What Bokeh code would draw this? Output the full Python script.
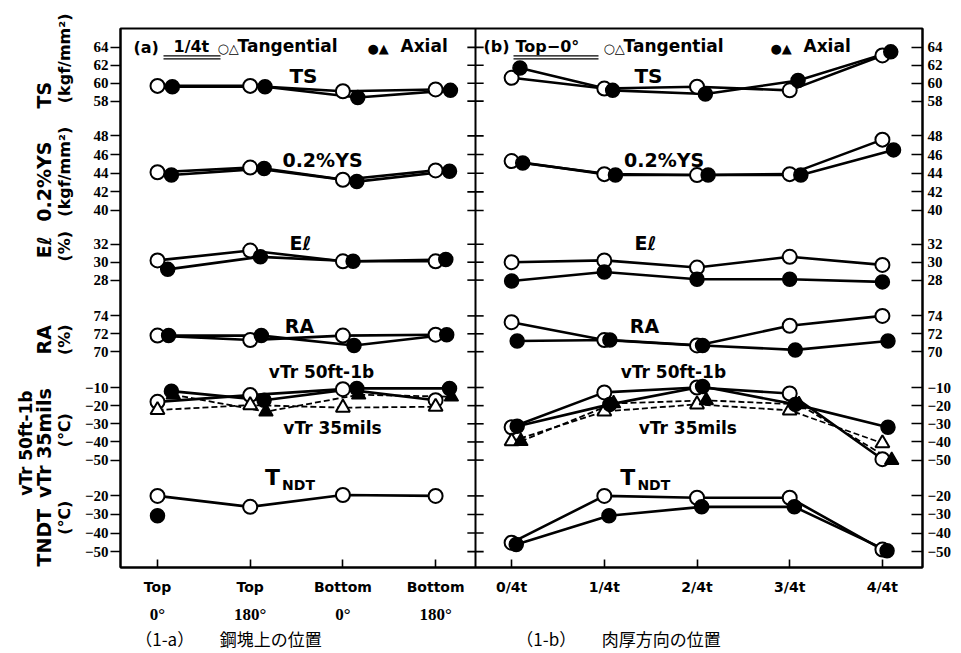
import math
import numpy as np
from bokeh.plotting import figure
from bokeh.models import Range1d, LinearAxis, FixedTicker, Label, Span
from bokeh.embed import file_html
from bokeh.resources import INLINE

# ---------------- data ----------------
pos_a_line1 = ["Top", "Top", "Bottom", "Bottom"]
pos_a_line2 = ["0°", "180°", "0°", "180°"]
pos_b = ["0/4t", "1/4t", "2/4t", "3/4t", "4/4t"]
captions = ["（1-a）　　鋼塊上の位置", "（1-b）　　肉厚方向の位置"]

ts_ticks = [58, 60, 62, 64]
ys_ticks = [40, 42, 44, 46, 48]
el_ticks = [28, 30, 32]
ra_ticks = [70, 72, 74]
vtr_ticks = [-50, -40, -30, -20, -10]
tndt_ticks = [-50, -40, -30, -20]

nan = float("nan")

# (1-a) position on ingot : Tangential / Axial
ts_a_tan = [59.7, 59.7, 59.1, 59.3]
ts_a_ax = [59.6, 59.6, 58.4, 59.2]
ys_a_tan = [44.1, 44.6, 43.3, 44.3]
ys_a_ax = [43.8, 44.5, 43.1, 44.2]
el_a_tan = [30.2, 31.3, 30.1, 30.1]
el_a_ax = [29.2, 30.6, 30.1, 30.3]
ra_a_tan = [71.8, 71.3, 71.8, 71.9]
ra_a_ax = [71.8, 71.8, 70.7, 71.9]
vtr50_a_tan = [-17.9, -14.2, -10.9, -17.0]
vtr50_a_ax = [-12.0, -17.0, -10.5, -10.5]
vtr35_a_tan = [-22.4, -19.7, -21.1, -20.6]
vtr35_a_ax = [-14.0, -23.3, -14.0, -15.1]
tndt_a_tan = [-20.0, -25.9, -19.5, -20.0]
tndt_a_ax = [-30.7, nan, nan, nan]

# (1-b) position through thickness : Tangential / Axial
ts_b_tan = [60.6, 59.4, 59.6, 59.2, 63.1]
ts_b_ax = [61.7, 59.2, 58.8, 60.3, 63.5]
ys_b_tan = [45.3, 43.9, 43.8, 43.9, 47.6]
ys_b_ax = [45.1, 43.8, 43.8, 43.8, 46.5]
el_b_tan = [30.0, 30.2, 29.4, 30.6, 29.7]
el_b_ax = [27.9, 28.9, 28.1, 28.1, 27.8]
ra_b_tan = [73.3, 71.3, 70.7, 72.9, 74.0]
ra_b_ax = [71.2, 71.3, 70.7, 70.2, 71.2]
vtr50_b_tan = [-31.9, -12.7, -10.0, -13.3, -49.5]
vtr50_b_ax = [-31.4, -19.3, -9.5, -19.3, -31.9]
vtr35_b_tan = [-39.6, -23.2, -19.3, -22.6, -40.7]
vtr35_b_ax = [-39.6, -18.8, -17.1, -19.3, -50.0]
tndt_b_tan = [-45.2, -20.0, -21.0, -21.0, -48.9]
tndt_b_ax = [-46.2, -30.7, -25.9, -25.9, -49.5]

# ---------------- layout ----------------
# composite vertical axis: each block maps two reference tick values to layout units
BLOCKS = {
    "TS": (ts_ticks, (64, 47, 58, 101)),
    "YS": (ys_ticks, (48, 136, 40, 211)),
    "EL": (el_ticks, (32, 245, 28, 281)),
    "RA": (ra_ticks, (74, 317, 70, 353)),
    "VTR": (vtr_ticks, (-10, 389, -50, 462)),
    "TNDT": (tndt_ticks, (-20, 498, -50, 554)),
}


def block_map(name):
    v1, y1, v2, y2 = BLOCKS[name][1]
    k = (y2 - y1) / (v2 - v1)
    return lambda v: y1 + (np.asarray(v, dtype=float) - v1) * k


PX0, PXS = 157.0, 92.7


def px2x(px):
    return (px - PX0) / PXS


XB0 = 3.82
DIV = px2x(475)
xa = np.arange(len(pos_a_line1), dtype=float)
xb = XB0 + np.arange(len(pos_b), dtype=float)

W, H = 958, 653
p = figure(width=W, height=H, output_backend="svg", toolbar_location=None,
           x_range=Range1d(px2x(120), px2x(922)), y_range=Range1d(570, 28),
           x_axis_location=None, y_axis_location=None,
           min_border_left=120, min_border_right=W - 922, min_border_top=28,
           min_border_bottom=H - 570)
p.grid.visible = False
p.outline_line_color = "black"
p.outline_line_width = 2
p.background_fill_color = "white"
p.border_fill_color = "white"

# y ticks
tick_pos, tick_lab = [], {}
for name, (ticks, _) in BLOCKS.items():
    m = block_map(name)
    for t in ticks:
        yv = round(float(m(t)), 3)
        tick_pos.append(yv)
        tick_lab[yv] = (str(t) if t >= 0 else "\u2212" + str(-t))

TICK_FONT = "Liberation Sans Narrow"


def style_y(ax, tin, tout, standoff):
    ax.major_tick_in = tin
    ax.major_tick_out = tout
    ax.minor_tick_line_color = None
    ax.major_label_standoff = standoff
    ax.axis_line_width = 2
    ax.major_tick_line_width = 1.6
    ax.major_label_text_font = TICK_FONT
    ax.major_label_text_font_size = "15px"
    ax.major_label_text_font_style = "bold"
    ax.major_label_text_color = "black"


yl = LinearAxis(ticker=FixedTicker(ticks=tick_pos, minor_ticks=[]), major_label_overrides=tick_lab)
style_y(yl, 0, 10, 2)
p.add_layout(yl, "left")
yr = LinearAxis(ticker=FixedTicker(ticks=tick_pos, minor_ticks=[]), major_label_overrides=tick_lab)
style_y(yr, 11, 0, 5)
p.add_layout(yr, "right")


# rotated quantity names: extra label-only axes stacked to the left
def title_axis(entries, size, standoff, style="bold"):
    keys = [round(float(y), 3) for y, _ in entries]
    ax = LinearAxis(ticker=FixedTicker(ticks=keys, minor_ticks=[]),
                    major_label_overrides={k: s for k, (_, s) in zip(keys, entries)})
    ax.axis_line_color = None
    ax.major_tick_line_color = None
    ax.minor_tick_line_color = None
    ax.major_tick_out = 0
    ax.major_tick_in = 0
    ax.major_label_standoff = standoff
    ax.major_label_orientation = "vertical"
    ax.major_label_text_font = "DejaVu Sans"
    ax.major_label_text_font_size = f"{size}px"
    ax.major_label_text_font_style = style
    ax.major_label_text_color = "black"
    p.add_layout(ax, "left")


title_axis([(58, "(kgf/mm²)"), (172, "(kgf/mm²)"), (247, "(%)"), (341, "(%)"),
            (432, "(℃)"), (520, "(℃)")], 16, 7)
title_axis([(95, "TS"), (182, "0.2%YS"), (248, "Eℓ"), (341, "RA"),
            (445, "vTr 35mils"), (540, "TNDT")], 19, -3)
title_axis([(445, "vTr 50ft-1b")], 17, -6)

# x axes
xs_all = [round(float(v), 4) for v in list(xa) + list(xb)]
x_lab = {k: s for k, s in zip(xs_all, pos_a_line1 + pos_b)}
xax = LinearAxis(ticker=FixedTicker(ticks=xs_all, minor_ticks=[]), major_label_overrides=x_lab)
xax.major_tick_in = 8
xax.major_tick_out = 0
xax.major_tick_line_width = 1.6
xax.axis_line_width = 2
xax.major_label_standoff = 11
xax.major_label_text_font = "DejaVu Sans"
xax.major_label_text_font_size = "14px"
xax.major_label_text_font_style = "bold"
xax.major_label_text_color = "black"
p.add_layout(xax, "below")

xa_keys = [round(float(v), 4) for v in xa]
xax2 = LinearAxis(ticker=FixedTicker(ticks=xa_keys, minor_ticks=[]),
                  major_label_overrides={k: s for k, s in zip(xa_keys, pos_a_line2)})
xax2.axis_line_color = None
xax2.major_tick_line_color = None
xax2.major_label_standoff = 1
xax2.major_label_text_font = TICK_FONT
xax2.major_label_text_font_size = "17px"
xax2.major_label_text_font_style = "bold"
xax2.major_label_text_color = "black"
p.add_layout(xax2, "below")

cap_keys = [round(px2x(228), 4), round(px2x(618), 4)]
xax3 = LinearAxis(ticker=FixedTicker(ticks=cap_keys, minor_ticks=[]),
                  major_label_overrides={k: s for k, s in zip(cap_keys, captions)})
xax3.axis_line_color = None
xax3.major_tick_line_color = None
xax3.major_label_standoff = -7
xax3.major_label_text_font = "Noto Sans CJK JP"
xax3.major_label_text_font_size = "17px"
xax3.major_label_text_color = "black"
p.add_layout(xax3, "below")

# middle divider with crossing ticks
p.add_layout(Span(location=DIV, dimension="height", line_color="black", line_width=2))
p.segment(x0=[DIV - 0.088] * len(tick_pos), x1=[DIV + 0.088] * len(tick_pos),
          y0=tick_pos, y1=tick_pos, line_color="black", line_width=1.6)

# ---------------- series ----------------
SERIES = [
    # panel x, block, tangential, axial, marker, dashed, axial dodge
    (xa, "TS", ts_a_tan, ts_a_ax, "circle", False, 0.16),
    (xa, "YS", ys_a_tan, ys_a_ax, "circle", False, 0.15),
    (xa, "EL", el_a_tan, el_a_ax, "circle", False, 0.11),
    (xa, "RA", ra_a_tan, ra_a_ax, "circle", False, 0.12),
    (xa, "VTR", vtr50_a_tan, vtr50_a_ax, "circle", False, 0.15),
    (xa, "VTR", vtr35_a_tan, vtr35_a_ax, "triangle", True, 0.17),
    (xa, "TNDT", tndt_a_tan, tndt_a_ax, "circle", False, 0.0),
    (xb, "TS", ts_b_tan, ts_b_ax, "circle", False, 0.09),
    (xb, "YS", ys_b_tan, ys_b_ax, "circle", False, 0.12),
    (xb, "EL", el_b_tan, el_b_ax, "circle", False, 0.0),
    (xb, "RA", ra_b_tan, ra_b_ax, "circle", False, 0.06),
    (xb, "VTR", vtr50_b_tan, vtr50_b_ax, "circle", False, 0.06),
    (xb, "VTR", vtr35_b_tan, vtr35_b_ax, "triangle", True, 0.1),
    (xb, "TNDT", tndt_b_tan, tndt_b_ax, "circle", False, 0.05),
]

marks_open, marks_fill = [], []
for xs, blk, tan, axl, mk, dashed, dodge in SERIES:
    m = block_map(blk)
    yt, ya = m(tan), m(axl)
    xt, xd = xs, xs + dodge
    for xx, yy in ((xt, yt), (xd, ya)):
        if dashed:
            p.line(xx, yy, line_color="black", line_width=1.8, line_dash="6 3")
        else:
            p.line(xx, yy, line_color="black", line_width=2.6)
    marks_open.append((xt, yt, mk))
    marks_fill.append((xd, ya, mk))

for xx, yy, mk in marks_open:
    p.scatter(xx, yy, marker=mk, size=14, fill_color="white", line_color="black", line_width=2)
for xx, yy, mk in marks_fill:
    p.scatter(xx, yy, marker=mk, size=14, fill_color="black", line_color="black", line_width=1.5)


# ---------------- texts inside the frame ----------------
def txt(s, px, py, size, font="DejaVu Sans", style="bold", align="center"):
    p.add_layout(Label(x=px2x(px), y=py, text=s, text_font=font, text_font_size=f"{size}px",
                       text_font_style=style, text_align=align, text_baseline="middle",
                       text_color="black"))


for cx in (0, 345):
    txt("TS", 303 + cx, 76, 20)
    txt("0.2%YS", 322 + cx * 0.99, 160, 19)
    txt("Eℓ", 300 + cx, 244, 19)
    txt("RA", 299 + cx, 327, 19)
    txt("vTr 50ft-1b", 321 + cx * 1.02, 373, 17)
    txt("vTr 35mils", 332 + cx * 1.03, 430, 17)
    txt("T", 272 + cx * 1.03, 480, 22)
    txt("NDT", 298 + cx * 1.03, 487, 14)

# legends
txt("(a)", 133, 47, 16, align="left")
txt("1/4t", 173, 46, 16, align="left")
txt("○△", 217, 48, 13, align="left")
txt("Tangential", 237, 46, 17, align="left")
txt("●▲", 367, 48, 13, align="left")
txt("Axial", 400, 46, 17, align="left")
txt("(b)", 483, 46, 16, align="left")
txt("Top\u22120°", 515, 46, 16, align="left")
txt("○△", 603, 48, 13, align="left")
txt("Tangential", 623, 46, 17, align="left")
txt("●▲", 770, 48, 13, align="left")
txt("Axial", 803, 46, 17, align="left")
for x0, x1 in ((163, 220), (513, 598)):
    p.segment(x0=[px2x(x0)] * 2, x1=[px2x(x1)] * 2, y0=[55.5, 58.5], y1=[55.5, 58.5],
              line_color="black", line_width=1.2)

open("out.html", "w").write(file_html(p, INLINE))
